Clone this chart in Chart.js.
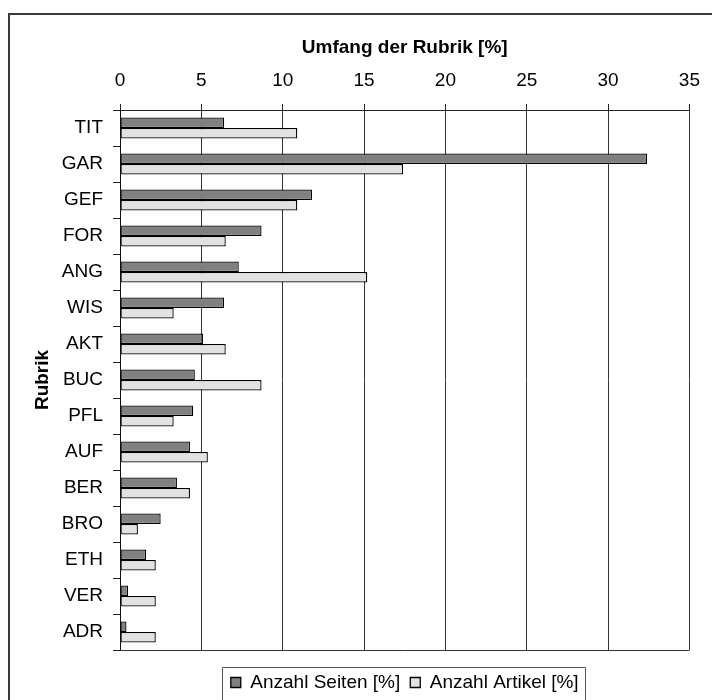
<!DOCTYPE html>
<html lang="de">
<head>
<meta charset="utf-8">
<title>Umfang der Rubrik</title>
<script src="https://cdn.jsdelivr.net/npm/chart.js@4/dist/chart.umd.min.js"></script>
<style>
  html, body { margin: 0; padding: 0; background: #ffffff; }
  #wrap { position: relative; width: 712px; height: 700px; overflow: hidden; }
</style>
</head>
<body>
<div id="wrap"><canvas id="chart" width="712" height="700"></canvas></div>
<script>
// Rubriken (categories, top to bottom)
const rubriken = ['TIT', 'GAR', 'GEF', 'FOR', 'ANG', 'WIS', 'AKT', 'BUC', 'PFL', 'AUF', 'BER', 'BRO', 'ETH', 'VER', 'ADR'];

// Anteil an der Seitenzahl in Prozent
const anzahlSeiten = [6.4, 32.4, 11.8, 8.7, 7.3, 6.4, 5.1, 4.6, 4.5, 4.3, 3.5, 2.5, 1.6, 0.5, 0.4];

// Anteil an der Artikelzahl in Prozent
const anzahlArtikel = [10.9, 17.4, 10.9, 6.5, 15.2, 3.3, 6.5, 8.7, 3.3, 5.4, 4.3, 1.1, 2.2, 2.2, 2.2];

// Achsenbereich und Beschriftungen
const xMin = 0;
const xMax = 35;
const xStep = 5;
const xTitle = 'Umfang der Rubrik [%]';
const yTitle = 'Rubrik';
const seriesLabels = ['Anzahl Seiten [%]', 'Anzahl Artikel [%]'];

const FONT = "'Liberation Sans', Arial, sans-serif";

// Frame, bottom line of the plot area and the box around the legend
const framePlugin = {
  id: 'frame',
  afterLayout(chart) {
    // move the legend row a little lower, below the plot area
    const lg = chart.legend;
    const shift = 13;
    lg.top += shift;
    lg.bottom += shift;
  },
  afterDraw(chart) {
    const ctx = chart.ctx;
    const area = chart.chartArea;
    const lg = chart.legend;
    ctx.save();

    // outer frame
    ctx.strokeStyle = '#3a3a3a';
    ctx.lineWidth = 2;
    ctx.strokeRect(9, 14, 720, 720);

    // bottom edge of the plot area
    ctx.strokeStyle = '#333333';
    ctx.lineWidth = 1;
    ctx.beginPath();
    ctx.moveTo(area.left, Math.round(area.bottom) + 0.5);
    ctx.lineTo(area.right, Math.round(area.bottom) + 0.5);
    ctx.stroke();

    // legend box
    const hb = lg.legendHitBoxes;
    if (hb && hb.length) {
      const first = hb[0];
      const last = hb[hb.length - 1];
      const left = Math.round(first.left - 9) + 0.5;
      const right = Math.round(last.left + last.width + 6) + 0.5;
      // row of the legend starts at top + padding
      const boxTop = lg.top + lg.options.labels.padding + (19 - 10) / 2;
      const top = Math.round(boxTop - 11) + 0.5;
      ctx.strokeStyle = '#555555';
      ctx.lineWidth = 1;
      ctx.beginPath();
      ctx.moveTo(left, 720);
      ctx.lineTo(left, top);
      ctx.lineTo(right, top);
      ctx.lineTo(right, 720);
      ctx.stroke();
    }
    ctx.restore();
  }
};

new Chart(document.getElementById('chart'), {
  type: 'bar',
  data: {
    labels: rubriken,
    datasets: [
      {
        label: seriesLabels[0],
        data: anzahlSeiten,
        backgroundColor: '#808080',
        borderColor: '#000000',
        borderWidth: 1.3,
        borderSkipped: false
      },
      {
        label: seriesLabels[1],
        data: anzahlArtikel,
        backgroundColor: '#e2e2e2',
        borderColor: '#000000',
        borderWidth: 1.3,
        borderSkipped: false
      }
    ]
  },
  options: {
    indexAxis: 'y',
    responsive: false,
    animation: false,
    devicePixelRatio: 1,
    layout: { padding: { top: 0, left: 0, right: 17, bottom: 11 } },
    datasets: {
      bar: { categoryPercentage: 0.585, barPercentage: 1.0 }
    },
    scales: {
      x: {
        position: 'top',
        min: xMin,
        max: xMax,
        afterFit(scale) { scale.height = 110; },
        ticks: {
          stepSize: xStep,
          color: '#000000',
          padding: 12,
          font: { family: FONT, size: 19 }
        },
        grid: {
          color: '#333333',
          lineWidth: 1,
          tickLength: 6,
          tickColor: '#222222'
        },
        border: { color: '#222222', width: 1 },
        title: {
          display: true,
          text: xTitle,
          color: '#000000',
          padding: { top: 36, bottom: 0 },
          font: { family: FONT, size: 19, weight: 'bold' }
        }
      },
      y: {
        position: 'left',
        offset: true,
        afterFit(scale) { scale.width = 120; },
        ticks: {
          color: '#000000',
          padding: 10,
          font: { family: FONT, size: 19 }
        },
        grid: {
          offset: true,
          drawOnChartArea: false,
          tickLength: 7,
          tickColor: '#222222'
        },
        border: { color: '#111111', width: 1 },
        title: {
          display: true,
          text: yTitle,
          color: '#000000',
          padding: { top: 31, bottom: 0 },
          font: { family: FONT, size: 19, weight: 'bold' }
        }
      }
    },
    plugins: {
      title: { display: false },
      tooltip: { enabled: false },
      legend: {
        display: true,
        position: 'bottom',
        fullSize: false,
        labels: {
          boxWidth: 10,
          boxHeight: 10,
          padding: 10,
          color: '#000000',
          font: { family: FONT, size: 19 }
        }
      }
    }
  },
  plugins: [framePlugin]
});
</script>
</body>
</html>
